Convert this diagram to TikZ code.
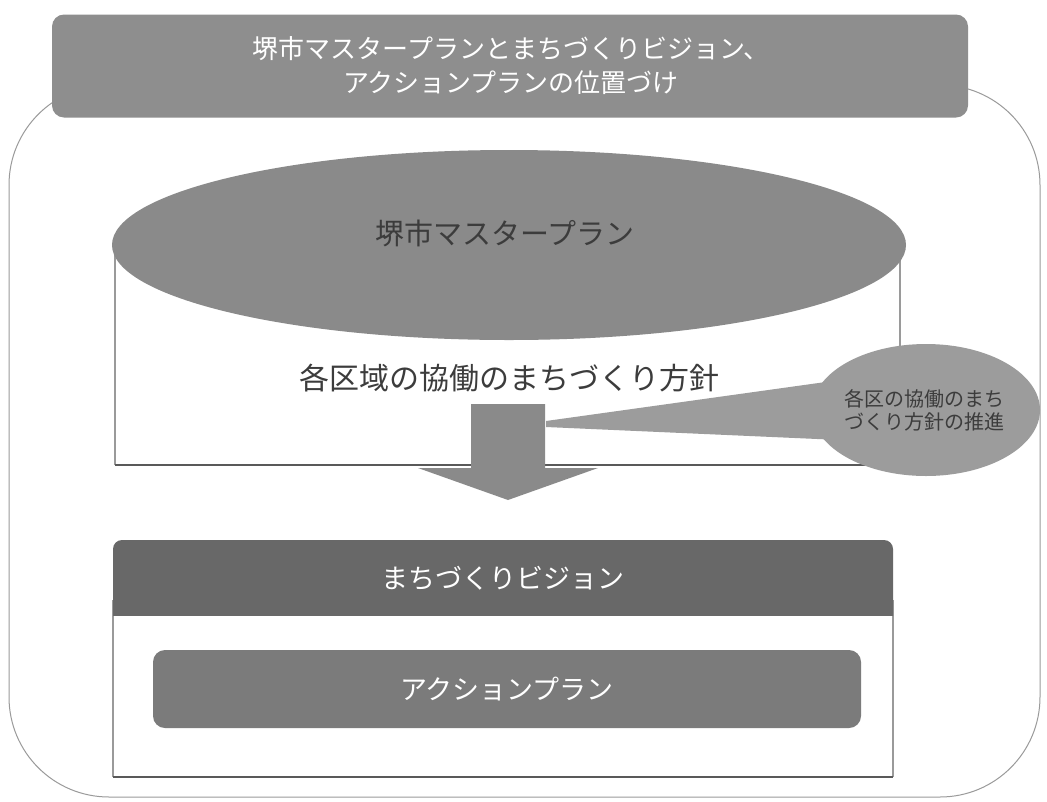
\documentclass[tikz,border=0pt]{standalone}
\usepackage{fontspec}
\setmainfont{Noto Sans CJK JP}
\usetikzlibrary{shapes.geometric}
\definecolor{titlegray}{HTML}{8E8E8E}
\definecolor{ellgray}{HTML}{8A8A8A}
\definecolor{callgray}{HTML}{9C9C9C}
\definecolor{visgray}{HTML}{686868}
\definecolor{actgray}{HTML}{7B7B7B}
\definecolor{txtdark}{HTML}{3C3C3C}
\definecolor{linegray}{HTML}{9A9A9A}
\tikzset{
  jp/.style={font=\fontsize{#1}{#1}\selectfont, inner sep=0pt, align=center},
  boxline/.style={draw=linegray, line width=1pt},
}
\begin{document}
\begin{tikzpicture}[x=1pt,y=-1pt]
\useasboundingbox (0,0) rectangle (1047,801);
\fill[white] (0,0) rectangle (1047,801);
% outer frame
\draw[boxline, rounded corners=100pt] (9,85) rectangle (1040,797);
% title
\node[fill=titlegray, rounded corners=12pt, minimum width=916pt, minimum height=103pt, inner sep=0pt] (title) at (510,66) {};
\node[jp=26, text=white] (titletext) at (511,66) {堺市マスタープランとまちづくりビジョン、\\[8pt]アクションプランの位置づけ};
% master plan box + ellipse
\draw[boxline, line width=1.2pt] (115,235) -- (115,465);
\draw[boxline, line width=1.2pt] (900,235) -- (900,465);
\draw[draw=black!65, line width=2.5pt] (115,465) -- (900,465);
\node[ellipse, fill=ellgray, minimum width=794pt, minimum height=190pt, inner sep=0pt] (master) at (509,245) {};
\node[jp=29, text=txtdark] (mastertext) at (505,233) {堺市マスタープラン};
\node[jp=30, text=txtdark] (policy) at (509,378) {各区域の協働のまちづくり方針};
% arrow
\fill[ellgray] (471,404) -- (545,404) -- (545,468) -- (598,468) -- (508,500) -- (418,468) -- (471,468) -- cycle;
\coordinate (arrowtop) at (508,404);
% callout
\fill[callgray] (546,421) -- (840,380) -- (840,440) -- (546,427) -- cycle;
\node[ellipse, fill=callgray, minimum width=228pt, minimum height=132pt, inner sep=0pt] (callout) at (926,410) {};
\node[jp=20, text=txtdark] (callouttext) at (924,410) {各区の協働のまち\\[3pt]づくり方針の推進};
% vision box
\draw[boxline, line width=1.2pt] (113,600) -- (113,777);
\draw[boxline, line width=1.2pt] (893,600) -- (893,777);
\draw[draw=black!65, line width=2.5pt] (113,777) -- (893,777);
\begin{scope}
\clip (100,530) rectangle (900,615);
\fill[visgray, rounded corners=9pt] (113,540) rectangle (893,640);
\end{scope}
\node[jp=27, text=white] (vision) at (503,578) {まちづくりビジョン};
\node[fill=actgray, rounded corners=12pt, minimum width=708pt, minimum height=78pt, inner sep=0pt] (action) at (507,689) {};
\node[jp=27, text=white] (actiontext) at (507,689) {アクションプラン};
\end{tikzpicture}
\end{document}
